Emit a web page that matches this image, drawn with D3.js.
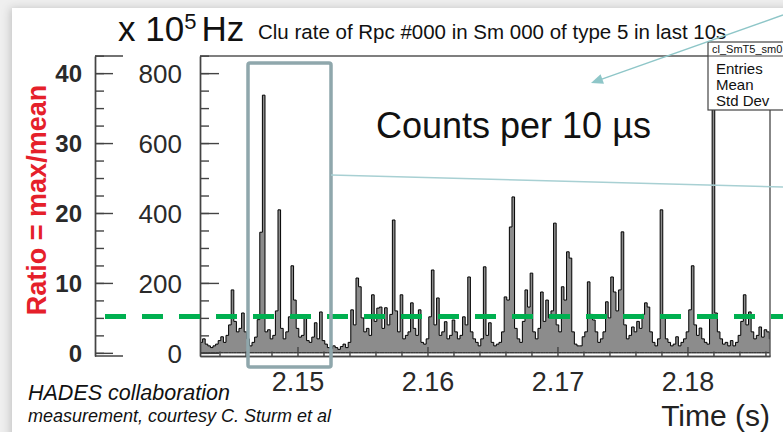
<!DOCTYPE html>
<html>
<head>
<meta charset="utf-8">
<script src="https://cdn.jsdelivr.net/npm/d3@7"></script>
<style>
  html, body { margin: 0; padding: 0; background: #efefef; }
  svg { display: block; font-family: "Liberation Sans", Arial, sans-serif; }
  .axis path, .axis line { stroke: #444; stroke-width: 1.4px; }
  .axis text { fill: #2a2a2a; }
</style>
</head>
<body>
<svg id="chart" width="783" height="432"></svg>
<script>
// counts per 10 us, rebinned to 0.2 ms bins, starting at t = 2.1425 s
const binStart = 2.1425;
const binWidth = 0.0002;
const binCounts = [
  30, 40, 25, 20, 15, 20, 25, 35, 46, 30, 50, 80, 180, 90, 60, 70, 114, 60, 40, 20,
  30, 45, 95, 345, 737, 60, 66, 40, 50, 120, 409, 70, 40, 60, 103, 249, 151, 70, 45, 50,
  100, 35, 30, 45, 86, 40, 117, 35, 25, 15, 12, 20, 15, 10, 18, 25, 15, 30, 123, 80,
  214, 189, 100, 60, 70, 50, 166, 90, 128, 131, 70, 129, 80, 110, 380, 120, 60, 166, 40, 50,
  60, 143, 70, 50, 123, 30, 25, 40, 103, 237, 80, 157, 50, 60, 89, 40, 50, 94, 60, 40,
  50, 103, 80, 217, 60, 40, 30, 20, 40, 246, 50, 86, 30, 20, 25, 30, 60, 160, 151, 360,
  446, 70, 40, 30, 90, 180, 131, 228, 60, 40, 70, 174, 90, 151, 100, 120, 371, 80, 60, 189,
  151, 289, 271, 60, 25, 20, 20, 46, 60, 203, 110, 94, 60, 30, 40, 60, 146, 100, 217, 174,
  120, 180, 346, 80, 40, 50, 74, 60, 90, 70, 110, 143, 131, 60, 30, 20, 40, 409, 100, 40,
  30, 20, 25, 46, 20, 30, 40, 60, 123, 249, 80, 50, 71, 40, 30, 25, 100, 1200, 114, 60,
  40, 25, 30, 20, 35, 20, 30, 50, 90, 166, 80, 117, 60, 40, 50, 74, 45, 66, 60, 40
];
const timeTicks = [2.15, 2.16, 2.17, 2.18];
const timeMinorTicks = [2.144, 2.146, 2.148, 2.152, 2.154, 2.156, 2.158, 2.162, 2.164, 2.166, 2.168,
  2.172, 2.174, 2.176, 2.178, 2.182, 2.184, 2.186];
const countTicks = [0, 200, 400, 600, 800];
const ratioTicks = [0, 10, 20, 30, 40];
const ratioThreshold = 5.2;
const statLabels = ["Entries", "Mean", "Std Dev"];

const svg = d3.select("#chart");

// slide background with soft shadow on the left
const defs = svg.append("defs");
const sh = defs.append("filter").attr("id", "shadow").attr("x", "-10%").attr("y", "-10%")
  .attr("width", "130%").attr("height", "130%");
sh.append("feDropShadow").attr("dx", -2).attr("dy", 0).attr("stdDeviation", 4)
  .attr("flood-color", "#000").attr("flood-opacity", 0.18);
svg.append("rect").attr("x", 12).attr("y", 8).attr("width", 820).attr("height", 460)
  .attr("fill", "#fff").attr("filter", "url(#shadow)");

const frame = { left: 200, right: 770, top: 56, bottom: 356 };

const x = d3.scaleLinear().domain([2.1425, 2.18635]).range([frame.left, frame.right]);
const y = d3.scaleLinear().domain([-9, 849]).range([frame.bottom, frame.top]);
const yRatio = d3.scaleLinear().domain([-0.45, 42.45]).range([frame.bottom, frame.top]);

defs.append("clipPath").attr("id", "frameClip").append("rect")
  .attr("x", frame.left).attr("y", frame.top)
  .attr("width", frame.right - frame.left).attr("height", frame.bottom - frame.top);

// histogram
const bins = binCounts.map((c, i) => ({ t: binStart + i * binWidth, c: c }));
bins.push({ t: binStart + binCounts.length * binWidth, c: binCounts[binCounts.length - 1] });

svg.append("path")
  .datum(bins)
  .attr("clip-path", "url(#frameClip)")
  .attr("fill", "#8c8c8c")
  .attr("stroke", "#000")
  .attr("stroke-width", 1)
  .attr("d", d3.area().curve(d3.curveStepAfter)
    .x(d => x(d.t))
    .y0(y(0))
    .y1(d => y(d.c)));

// frame top and right
svg.append("path")
  .attr("d", `M${frame.left},${frame.top}H${frame.right}V${frame.bottom}`)
  .attr("fill", "none").attr("stroke", "#555").attr("stroke-width", 1.4);

// main y axis
svg.append("g").attr("class", "axis")
  .attr("transform", `translate(${frame.left},0)`)
  .call(d3.axisLeft(y).tickValues(d3.range(0, 851, 50)).tickSize(-9).tickSizeOuter(0).tickFormat(""));
const yAx = svg.append("g").attr("class", "axis")
  .attr("transform", `translate(${frame.left},0)`)
  .call(d3.axisLeft(y).tickValues(countTicks).tickSize(-19).tickSizeOuter(0).tickPadding(18));
yAx.selectAll("text").style("font-size", "26px").attr("dy", "0.36em");

// x axis
svg.append("g").attr("class", "axis")
  .attr("transform", `translate(0,${frame.bottom})`)
  .call(d3.axisBottom(x).tickValues(timeMinorTicks).tickSize(-4.5).tickSizeOuter(0).tickFormat(""));
const xAx = svg.append("g").attr("class", "axis")
  .attr("transform", `translate(0,${frame.bottom})`)
  .call(d3.axisBottom(x).tickValues(timeTicks).tickSize(-9).tickSizeOuter(0).tickPadding(16)
    .tickFormat(d3.format(".2f")));
xAx.selectAll("text").style("font-size", "27px");

svg.append("text").attr("x", 770).attr("y", 426).attr("text-anchor", "end")
  .style("font-size", "30px").attr("fill", "#222").text("Time (s)");

// ratio axis
const rAxX = 95;
svg.append("g").attr("class", "axis")
  .attr("transform", `translate(${rAxX},0)`)
  .call(d3.axisLeft(yRatio).tickValues(d3.range(0, 42.6, 2.5)).tickSize(-9).tickSizeOuter(0).tickFormat(""));
const rAx = svg.append("g").attr("class", "axis")
  .attr("transform", `translate(${rAxX},0)`)
  .call(d3.axisLeft(yRatio).tickValues(ratioTicks).tickSize(-18).tickSizeOuter(0).tickPadding(13));
rAx.selectAll("text").style("font-size", "24px").style("font-weight", "bold")
  .attr("fill", "#111").attr("dy", "0.36em");
svg.append("path")
  .attr("d", `M${rAxX + 28},${frame.top}H${rAxX}M${rAxX},${frame.bottom}H${rAxX + 28}`)
  .attr("stroke", "#444").attr("stroke-width", 1.4).attr("fill", "none");

svg.append("text")
  .attr("transform", `translate(46,200) rotate(-90)`)
  .attr("text-anchor", "middle")
  .style("font-size", "27px").style("font-weight", "bold")
  .attr("fill", "#e5202a")
  .text("Ratio = max/mean");

// threshold
svg.append("line")
  .attr("x1", 105).attr("x2", 790)
  .attr("y1", yRatio(ratioThreshold)).attr("y2", yRatio(ratioThreshold))
  .attr("stroke", "#00b050").attr("stroke-width", 5).attr("stroke-dasharray", "21 16");

// stat box
const stat = svg.append("g");
stat.append("rect").attr("x", 708).attr("y", 42).attr("width", 90).attr("height", 68)
  .attr("fill", "#fff").attr("stroke", "#444").attr("stroke-width", 1.2);
stat.append("line").attr("x1", 708).attr("x2", 790).attr("y1", 56).attr("y2", 56)
  .attr("stroke", "#444").attr("stroke-width", 1.2);
stat.append("text").attr("x", 712).attr("y", 53).style("font-size", "11px").attr("fill", "#111")
  .text("cl_SmT5_sm0");
stat.selectAll("text.lab").data(statLabels).enter().append("text").attr("class", "lab")
  .attr("x", 716).attr("y", (d, i) => 74 + i * 16)
  .style("font-size", "15px").attr("fill", "#111").text(d => d);

// titles
const t1 = svg.append("text").attr("x", 118).attr("y", 41).attr("fill", "#111");
t1.append("tspan").style("font-size", "35px").text("x 10");
t1.append("tspan").style("font-size", "22px").attr("dy", -12).text("5");
t1.append("tspan").style("font-size", "35px").attr("dy", 12).attr("dx", 5).text("Hz");

svg.append("text").attr("x", 258).attr("y", 39).style("font-size", "20.5px").attr("fill", "#111")
  .text("Clu rate of Rpc #000 in Sm 000 of type 5 in last 10s");

svg.append("text").attr("x", 376).attr("y", 138).style("font-size", "36px").attr("fill", "#111")
  .text("Counts per 10 \u00b5s");

// highlight box and callouts
svg.append("rect").attr("x", 248).attr("y", 63).attr("width", 83).attr("height", 304)
  .attr("rx", 2).attr("fill", "none").attr("stroke", "#8fa7ac").attr("stroke-width", 3.5);
svg.append("line").attr("x1", 331).attr("y1", 175).attr("x2", 783).attr("y2", 187)
  .attr("stroke", "#a8d0d3").attr("stroke-width", 1.5);

const tip = [591, 83], tail = [783, 15];
const ang = Math.atan2(tail[1] - tip[1], tail[0] - tip[0]);
svg.append("line").attr("x1", tail[0]).attr("y1", tail[1])
  .attr("x2", tip[0] + 10 * Math.cos(ang)).attr("y2", tip[1] + 10 * Math.sin(ang))
  .attr("stroke", "#8ec6c8").attr("stroke-width", 1.5);
const head = [tip,
  [tip[0] + 13 * Math.cos(ang - 0.4), tip[1] + 13 * Math.sin(ang - 0.4)],
  [tip[0] + 13 * Math.cos(ang + 0.4), tip[1] + 13 * Math.sin(ang + 0.4)]];
svg.append("polygon").attr("points", head.map(p => p.join(",")).join(" ")).attr("fill", "#8ec6c8");

// credit
svg.append("text").attr("x", 28).attr("y", 400).style("font-size", "21.5px")
  .style("font-style", "italic").attr("fill", "#111").text("HADES collaboration");
svg.append("text").attr("x", 28).attr("y", 422).style("font-size", "18px")
  .style("font-style", "italic").attr("fill", "#111").text("measurement, courtesy C. Sturm et al");
</script>
</body>
</html>
